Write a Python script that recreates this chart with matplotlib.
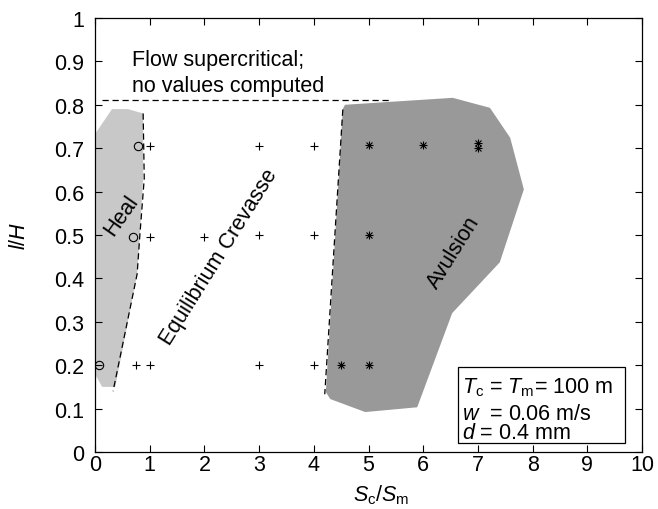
import numpy as np
import matplotlib
matplotlib.use("Agg")
import matplotlib.pyplot as plt

plt.rcParams["font.family"] = ["Liberation Sans", "DejaVu Sans"]
plt.rcParams["mathtext.fontset"] = "custom"
plt.rcParams["mathtext.rm"] = "Liberation Sans"
plt.rcParams["mathtext.it"] = "Liberation Sans:italic"

# regions
heal_x = [0.02, 0.31, 0.60, 0.88, 0.88, 0.82, 0.77, 0.37, 0.13, 0.02]
heal_y = [0.736, 0.79, 0.79, 0.78, 0.63, 0.50, 0.41, 0.15, 0.15, 0.175]
avul_x = [4.57, 6.54, 7.22, 7.59, 7.84, 7.40, 6.53, 5.89, 4.94, 4.30, 4.22, 4.53]
avul_y = [0.80, 0.816, 0.793, 0.724, 0.605, 0.437, 0.32, 0.103, 0.092, 0.122, 0.138, 0.79]

# boundaries
heal_bx = [0.88, 0.90, 0.82, 0.77, 0.33]
heal_by = [0.78, 0.63, 0.50, 0.41, 0.14]
avul_bx = [4.53, 4.20]
avul_by = [0.789, 0.133]
super_x = [0.13, 5.40]
super_y = [0.812, 0.812]

# simulation outcomes
heal_px = [0.07, 0.70, 0.79]
heal_py = [0.20, 0.495, 0.705]
eq_px = [0.75, 1, 1, 1, 2, 3, 3, 3, 4, 4, 4]
eq_py = [0.20, 0.20, 0.495, 0.705, 0.495, 0.20, 0.50, 0.705, 0.20, 0.50, 0.705]
av_px = [4.5, 5, 5, 5, 6, 7, 7]
av_py = [0.20, 0.20, 0.50, 0.707, 0.707, 0.70, 0.712]

fig = plt.figure(figsize=(6.58, 5.10), dpi=100)
ax = fig.add_axes([0.1444, 0.1118, 0.8313, 0.851])

ax.fill(heal_x, heal_y, color="#c8c8c8", lw=0)
ax.fill(avul_x, avul_y, color="#999999", lw=0)
dash = dict(color="black", lw=0.9, ls=(0, (5, 3)))
ax.plot(heal_bx, heal_by, **dash)
ax.plot(avul_bx, avul_by, **dash)
ax.plot(super_x, super_y, **dash)

ax.plot(heal_px, heal_py, "o", mfc="none", mec="black", ms=6, mew=0.8)
ax.plot(eq_px, eq_py, "+", color="black", ms=6, mew=0.8)
ax.plot(av_px, av_py, "+", color="black", ms=6, mew=0.8)
ax.plot(av_px, av_py, "x", color="black", ms=4.5, mew=0.8)

fs = 15.5
ax.text(0.68, 0.892, "Flow supercritical;", fontsize=fs, va="baseline", ha="left")
ax.text(0.68, 0.832, "no values computed", fontsize=fs, va="baseline", ha="left")
ax.text(0.475, 0.547, "Heal", fontsize=fs, rotation=55, ha="center", va="center")
ax.text(2.27, 0.45, "Equilibrium Crevasse", fontsize=fs, rotation=58, ha="center", va="center")
ax.text(6.55, 0.462, "Avulsion", fontsize=fs, rotation=58, ha="center", va="center")

ax.add_patch(plt.Rectangle((6.64, 0.02), 3.05, 0.175, fc="white", ec="black", lw=0.9, zorder=5))
ax.text(6.71, 0.138, r"$T_{\rm c}$ = $T_{\rm m}$= 100 m", fontsize=fs, va="baseline", zorder=6)
ax.text(6.71, 0.077, r"$w$  = 0.06 m/s", fontsize=fs, va="baseline", zorder=6)
ax.text(6.71, 0.033, r"$d$ = 0.4 mm", fontsize=fs, va="baseline", zorder=6)

ax.set_xlim(0, 10)
ax.set_ylim(0, 1)
ax.set_xticks(range(11))
ax.set_yticks(np.arange(0, 1.01, 0.1))
ax.set_yticklabels(["0", "0.1", "0.2", "0.3", "0.4", "0.5", "0.6", "0.7", "0.8", "0.9", "1"])
ax.tick_params(direction="in", length=5, width=0.8, labelsize=fs, top=True, right=True)
ax.tick_params(axis="x", pad=1.5)
ax.tick_params(axis="y", pad=8)
for s in ax.spines.values():
    s.set_linewidth(0.9)
ax.set_xlabel(r"$S_{\rm c}/S_{\rm m}$", fontsize=fs, va="baseline")
ax.xaxis.set_label_coords(0.523, -0.112)
ax.set_ylabel(r"$l/H$", fontsize=fs)
ax.yaxis.set_label_coords(-0.118, 0.5)

fig.savefig("out.png", dpi=100)
